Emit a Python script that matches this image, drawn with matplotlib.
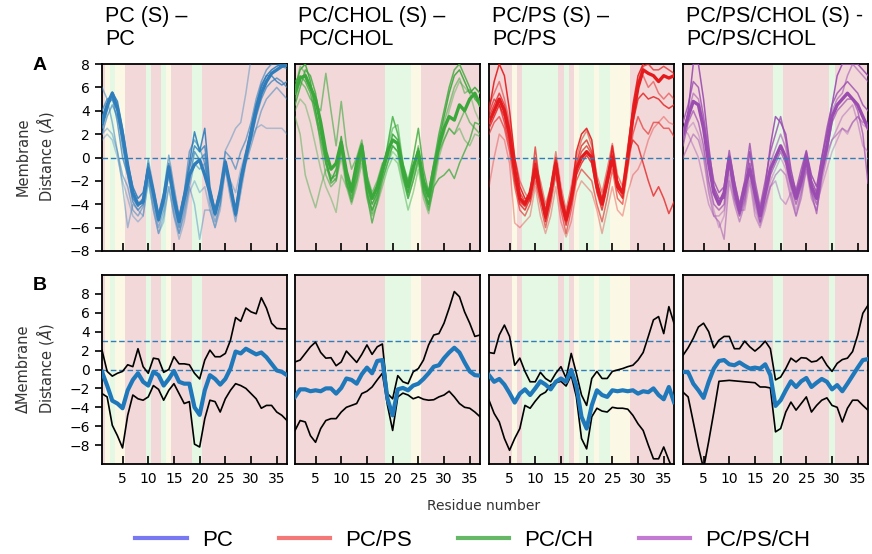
import numpy as np
import matplotlib.pyplot as plt

residues = np.arange(1, 38)

titles = ['PC (S) \u2013\nPC', 'PC/CHOL (S) \u2013\nPC/CHOL',
          'PC/PS (S) \u2013\nPC/PS', 'PC/PS/CHOL (S) -\nPC/PS/CHOL']

# per-residue secondary structure state: C coil (pink), G helix (green), Y turn (yellow)
ss_pc = 'CYGYYCCCCGCCGYCCCCGG' + 'C' * 17
ss_pcchol = 'C' * 18 + 'GGGGGYY' + 'C' * 12
ss_pcps = 'CCCCCYCGGGGGGGCGCYGGGYGGYYYY' + 'C' * 9
ss_pcpschol = 'C' * 18 + 'GG' + 'C' * 9 + 'G' + 'C' * 7

# panel A: membrane distance of individual runs
pc_runs = [
    [3.0, 4.5, 5.5, 4.2, 2.0, -0.7, -3.0, -4.0, -3.8, -1.0, -3.0, -5.3, -3.5, -0.8, -3.5, -5.5, -3.5, -1.5, -0.6, -0.2, -1.5, -3.0, -4.8, -3.0, -0.4, -2.5, -4.8, -2.0, 0.0, 2.0, 4.0, 5.5, 6.5, 7.2, 7.5, 7.8, 7.9],
    [2.5, 4.0, 5.6, 4.8, 2.5, -0.5, -2.5, -3.5, -3.0, -0.8, -2.8, -5.0, -3.2, -1.0, -3.0, -5.2, -3.0, -0.5, 2.2, 0.5, 2.5, -2.5, -4.5, -2.8, -0.6, -2.3, -4.6, -1.5, 0.5, 2.5, 4.5, 6.0, 7.0, 7.5, 7.8, 8.0, 8.0],
    [4.0, 5.0, 5.2, 3.0, 0.0, -1.5, -3.8, -4.5, -4.0, -1.2, -3.5, -5.5, -4.0, -1.2, -4.0, -6.0, -4.0, -2.0, 0.5, -0.2, 0.3, -3.5, -5.0, -3.5, -0.5, -3.0, -5.0, -2.5, 0.0, 1.5, 3.5, 5.0, 6.0, 6.5, 6.8, 6.5, 6.0],
    [6.0, 5.0, 3.0, 0.5, -1.5, -2.5, -4.5, -5.0, -4.2, -1.5, -4.0, -6.0, -4.5, -1.5, -4.5, -6.5, -4.5, -2.5, -0.5, -1.0, -0.5, -4.0, -5.5, -4.0, -1.0, -3.5, -5.5, -3.0, -0.5, 1.0, 2.5, 4.0, 5.0, 5.5, 6.0, 5.5, 5.0],
    [2.0, 2.5, 2.0, 0.5, -2.5, -6.0, -4.0, -4.5, -5.0, -2.0, -4.5, -6.5, -5.0, -2.5, -5.0, -6.5, -5.0, -2.5, -4.0, -7.0, -4.5, -4.5, -6.0, -4.0, 0.6, 1.5, 2.5, 3.0, 5.5, 8.5, 9.0, 9.0, 9.0, 9.0, 9.0, 9.0, 9.0],
    [1.5, 2.0, 1.5, 0.0, -2.0, -3.5, -5.0, -5.5, -5.0, -2.0, -4.5, -6.5, -5.5, -2.5, -5.0, -7.0, -5.5, -3.0, -2.0, -3.0, -2.5, -4.5, -6.0, -4.5, -1.0, -2.0, -3.0, -1.0, 0.5, 1.5, 2.5, 2.8, 2.5, 2.5, 2.5, 2.5, 2.0],
    [3.5, 4.5, 5.0, 4.0, 1.0, -1.5, -3.5, -4.2, -3.5, -0.5, -3.0, -5.0, -3.5, -0.5, -3.5, -5.5, -3.5, -1.0, 1.0, 0.5, 1.0, -2.8, -4.8, -3.2, -0.2, -2.5, -5.0, -2.2, 0.2, 2.5, 4.5, 6.2, 7.0, 7.0, 6.5, 6.2, 6.5],
    [2.0, 3.5, 4.5, 3.5, 1.5, -1.0, -3.2, -4.0, -3.5, -0.2, -2.5, -4.8, -3.0, 0.2, -2.5, -5.0, -3.0, 0.5, 1.5, 0.8, -0.5, -3.0, -4.5, -2.5, 0.5, 0.0, -1.0, 0.5, 1.5, 3.0, 5.0, 6.5, 7.5, 8.0, 8.0, 7.8, 7.6],
]
pc_alpha = [1.0, 0.9, 0.7, 0.5, 0.4, 0.35, 0.8, 0.6]

pcchol_runs = [
    [5.5, 6.8, 7.0, 6.0, 5.0, 3.0, 0.5, -1.0, -0.5, 1.3, -1.2, -2.8, -0.5, 1.0, -2.0, -3.5, -2.5, -1.0, 0.5, 1.5, 1.2, -1.0, -2.5, -0.8, 0.5, -2.0, -3.3, -1.0, 1.0, 2.5, 3.5, 3.2, 4.5, 4.0, 5.0, 5.5, 4.5],
    [6.0, 7.5, 8.0, 6.5, 4.0, 2.0, 0.0, -2.0, -1.0, 1.8, -1.5, -3.0, -1.0, 1.2, -2.5, -4.0, -3.0, -1.5, 0.0, 2.0, 1.5, -1.5, -3.0, -1.2, 0.8, -2.5, -4.0, -1.5, 1.5, 3.5, 5.5, 7.0, 7.5, 6.5, 5.5, 6.0, 5.5],
    [4.5, 6.0, 7.5, 7.0, 5.5, 2.5, -0.5, -1.8, -1.5, 1.0, -2.0, -3.5, -1.5, 0.5, -3.0, -4.5, -3.5, -1.5, 1.0, 3.5, 2.0, -0.5, -2.0, 0.0, 2.5, -1.0, -3.0, -0.5, 2.0, 4.0, 6.0, 7.5, 8.0, 7.0, 6.0, 5.0, 4.5],
    [5.0, 6.5, 6.0, 5.0, 4.5, 4.0, 7.2, 4.0, 1.0, 4.8, 1.0, -1.0, 0.0, 1.5, -1.5, -3.0, -2.0, -0.5, 0.0, 1.0, 0.5, -1.8, -3.2, -1.5, 0.0, -2.8, -4.2, -2.0, 0.5, 1.5, 2.5, 2.0, 3.0, 4.0, 3.0, 2.5, 2.0],
    [3.5, 2.0, -1.5, -3.0, -4.3, -2.5, -1.0, -1.5, -2.0, 0.0, -2.5, -4.0, -2.5, -0.5, -3.5, -5.0, -4.0, -2.5, -1.0, 0.0, -0.5, -2.5, -4.5, -3.0, -1.0, -3.5, -4.8, -2.5, 0.0, 1.5, 2.5, 2.0, 2.5, 1.5, 1.0, 2.0, 1.8],
    [4.0, 5.0, 4.5, 3.0, 1.0, -1.0, -2.5, -3.5, -4.7, -1.5, -2.5, -3.0, -2.0, 0.0, -3.0, -4.5, -3.0, -1.8, -0.5, 0.5, 0.0, -2.0, -3.5, -2.0, -0.5, -3.0, -4.0, -1.8, 0.5, 2.0, 4.0, 5.5, 6.5, 6.0, 5.5, 4.0, 3.0],
    [6.5, 7.0, 6.5, 5.5, 3.5, 1.5, -0.5, -2.2, -1.8, 0.8, -2.2, -3.8, -2.0, 0.2, -3.2, -5.6, -3.8, -2.0, -0.5, 1.0, 0.5, -1.5, -3.5, -2.0, -0.2, -3.0, -4.5, -2.5, -1.8, -1.5, -1.0, -1.8, -0.5, 0.5, 1.5, 3.0, 2.8],
    [5.8, 7.8, 7.2, 6.0, 4.0, 1.0, -1.5, -2.5, -2.0, 0.5, -2.0, -3.2, -1.2, 0.8, -2.8, -4.8, -3.2, -1.0, 0.8, 2.5, 2.8, -0.5, -2.8, -1.0, 1.0, -2.0, -3.5, -1.0, 1.0, 3.0, 4.5, 6.0, 6.8, 5.5, 5.8, 5.2, 5.0],
]
pcchol_alpha = [1.0, 0.9, 0.8, 0.6, 0.45, 0.4, 0.75, 0.55]

pcps_runs = [
    [3.0, 4.0, 5.0, 4.0, 2.0, -1.0, -3.5, -4.0, -3.0, -1.0, -3.0, -5.0, -3.0, -0.5, -3.5, -5.3, -3.5, -1.0, 0.0, 0.5, 0.0, -2.5, -4.0, -2.0, 0.0, -2.5, -3.0, 0.0, 3.5, 6.0, 7.5, 7.2, 7.0, 6.5, 7.0, 6.8, 7.0],
    [4.0, 6.5, 8.0, 7.0, 4.0, 0.0, -2.5, -3.5, -3.5, -0.5, -3.0, -5.5, -3.5, -0.5, -3.5, -5.5, -3.5, 0.5, 2.0, 2.5, 1.5, -2.0, -4.0, -2.0, 1.0, -2.0, -3.0, 0.5, 4.5, 7.0, 8.0, 8.5, 8.5, 8.5, 8.5, 8.5, 8.5],
    [2.5, 3.5, 4.5, 3.5, 1.5, -2.0, -4.0, -4.5, -3.5, -1.5, -3.5, -5.2, -3.2, -1.0, -4.0, -5.8, -4.0, -1.5, -0.5, 0.2, -0.5, -3.0, -4.5, -2.5, -0.3, -2.8, -3.5, -0.5, 3.0, 5.0, 5.5, 5.0, 5.2, 5.0, 4.5, 4.2, 4.5],
    [2.0, 3.0, 3.5, 2.5, 0.5, -2.5, -4.5, -5.0, -4.0, -2.0, -4.0, -6.0, -4.0, -1.5, -4.5, -6.5, -4.5, -2.0, -1.0, -1.5, -2.0, -4.0, -5.5, -3.5, -1.0, -3.5, -4.0, -1.0, 2.0, 3.5, 2.5, 2.0, 3.0, 3.0, 2.5, 2.5, 1.8],
    [3.5, 4.5, 5.5, 4.5, 2.5, -1.0, -3.0, -3.8, -3.0, 0.0, -2.5, -4.5, -2.5, 0.0, -3.0, -5.0, -3.0, -0.5, 1.0, 1.5, 0.5, -2.0, -3.5, -1.5, 0.5, -2.0, -3.0, 0.0, 1.5, 1.0, -0.5, -2.0, -3.3, -2.5, -3.5, -4.8, -3.8],
    [-2.5, 0.0, 2.0, 1.5, -0.5, -5.6, -6.0, -5.5, -5.0, -2.5, -5.0, -6.5, -5.0, -2.5, -5.5, -6.8, -5.5, -3.0, -2.0, -2.5, -3.0, -4.5, -6.5, -4.5, -2.5, -4.5, -5.0, -3.0, -1.5, -1.0, 0.0, 1.5, 2.5, 3.0, 3.5, 3.0, 2.8],
    [4.5, 5.5, 6.5, 5.0, 3.0, 0.0, -2.0, -3.0, -3.8, -0.5, -2.0, -4.0, -2.5, 0.5, -2.5, -4.5, -2.5, 0.0, 1.5, 2.3, 1.0, -1.5, -3.0, -1.0, 1.2, -1.5, -2.5, 1.0, 4.0, 6.5, 7.0, 6.0, 6.5, 5.5, 5.0, 5.5, 5.0],
    [3.8, 5.0, 4.5, 3.0, 1.0, -1.5, -3.8, -4.2, -3.2, 0.9, -2.8, -4.8, -2.8, -0.2, -3.2, -5.0, -3.2, -0.8, 0.5, 1.0, 0.3, -2.2, -3.8, -1.8, 0.2, -2.2, -3.4, -0.2, 3.8, 6.5, 7.8, 8.0, 7.5, 7.5, 7.8, 7.5, 7.2],
]
pcps_alpha = [1.0, 0.9, 0.8, 0.6, 0.75, 0.35, 0.5, 0.7]

pcpschol_runs = [
    [2.0, 3.5, 4.8, 4.5, 2.5, -0.5, -3.0, -4.0, -3.0, 0.0, -2.5, -4.5, -2.5, -1.0, -3.0, -5.0, -3.0, -1.0, 0.0, 1.0, 0.0, -2.0, -3.5, -2.0, 0.0, -2.5, -3.5, -1.0, 1.0, 3.5, 4.5, 5.0, 5.5, 5.0, 4.5, 3.5, 2.5],
    [1.5, 4.0, 8.0, 8.0, 5.0, 1.0, -2.5, -3.5, -3.5, -0.5, -3.0, -4.8, -3.0, 0.5, -2.5, -4.5, -2.5, 1.0, 3.5, 3.0, 2.0, -1.0, -3.0, -1.5, 0.5, -1.5, -2.5, 0.0, 2.0, 4.5, 7.0, 8.0, 8.0, 8.0, 8.0, 7.5, 7.0],
    [1.0, 3.0, 4.0, 3.0, 1.0, -2.0, -4.0, -4.5, -4.0, -0.5, -3.5, -5.0, -3.5, -0.5, -3.5, -5.5, -3.5, -1.5, -0.5, 0.5, -0.5, -2.5, -4.0, -2.5, -0.5, -3.0, -4.8, -1.5, 0.5, 3.0, 4.0, 4.5, 5.0, 5.0, 4.0, 2.0, -2.2],
    [0.0, 1.0, 2.0, 1.5, 0.0, -3.0, -5.0, -5.5, -7.0, -2.0, -4.0, -5.5, -4.0, -1.0, -4.0, -5.6, -4.0, -2.5, -1.5, -1.0, -1.5, -3.5, -5.0, -3.5, -1.0, -3.5, -4.5, -2.0, 0.0, 1.5, 2.0, 2.5, 2.2, 3.0, 3.5, 3.0, 3.0],
    [2.5, 2.0, 1.0, 0.0, -2.0, -4.0, -5.0, -5.0, -4.5, -1.0, -3.0, -4.5, -4.5, -2.0, -5.0, -6.0, -4.5, -2.5, -2.0, -3.5, -4.0, -3.0, -5.0, -3.0, -0.5, -2.0, -3.0, -1.0, 0.5, 1.5, 2.5, 3.5, 4.0, 4.5, 3.0, 1.0, 0.5],
    [3.0, 4.5, 6.5, 6.0, 3.5, 0.5, -2.0, -3.0, -2.5, 0.6, -2.0, -4.0, -2.0, 1.2, -2.0, -4.2, -2.0, 0.5, 2.0, 3.5, 1.5, -1.5, -2.8, -1.0, 0.6, -2.0, -3.0, 0.0, 2.5, 4.5, 5.5, 6.0, 6.5, 6.0, 5.5, 4.5, 4.0],
    [2.2, 3.8, 5.5, 5.0, 3.0, -0.2, -2.8, -3.8, -3.2, 0.2, -2.8, -4.2, -3.0, -0.5, -3.2, -4.8, -3.2, -0.5, 0.8, 2.0, 0.8, -1.8, -3.2, -1.8, 0.2, -2.8, -4.0, -0.5, 2.0, 4.0, 5.0, 5.5, 7.0, 8.0, 7.5, 7.0, 6.5],
    [1.8, 2.5, 3.0, 2.0, 0.5, -2.5, -4.5, -6.0, -5.0, -1.5, -3.5, -5.0, -3.8, -1.5, -4.5, -5.8, -4.0, -2.0, -1.0, 0.0, -1.0, -3.0, -4.5, -3.0, -1.0, -3.0, -4.0, -2.5, -1.0, 0.5, 1.5, 2.5, 2.0, 3.0, 3.5, 2.8, 2.5],
]
pcpschol_alpha = [1.0, 0.9, 0.7, 0.5, 0.4, 0.8, 0.55, 0.35]

# panel B: difference to reference, mean with upper / lower bound
pc_mean = [-0.25, -1.7, -3.3, -3.6, -4.1, -2.2, -1.1, -0.4, -1.3, -1.7, -0.25, -0.6, -1.7, -1.0, -0.15, -1.3, -1.5, -1.5, -4.0, -4.8, -2.2, -0.6, -1.0, -1.6, -1.0, 0.1, 1.9, 1.7, 2.2, 1.9, 1.6, 1.8, 1.3, 0.6, -0.1, -0.25, -0.6]
pc_upper = [2.05, -0.2, -0.7, -0.4, -0.2, 0.5, 0.3, 2.2, 0.3, -0.4, 1.2, 1.1, -0.3, 0.0, 1.35, 0.6, 0.6, 0.5, -0.4, -1.0, 1.0, 2.05, 1.35, 1.35, 1.7, 3.1, 5.5, 5.1, 6.5, 6.1, 5.9, 7.6, 6.5, 4.9, 4.35, 4.3, 4.3]
pc_lower = [-2.55, -2.9, -5.9, -7.0, -8.3, -4.85, -2.7, -3.1, -3.25, -2.9, -1.7, -2.1, -3.25, -2.2, -1.5, -2.55, -3.6, -3.4, -7.9, -8.2, -5.2, -3.25, -3.4, -4.5, -3.1, -2.2, -1.5, -1.7, -2.0, -2.55, -3.1, -4.1, -3.8, -3.8, -4.5, -4.85, -5.4]

pcchol_mean = [-2.9, -2.1, -2.1, -2.3, -2.2, -2.3, -2.0, -2.0, -2.55, -1.95, -0.95, -1.1, -1.5, -0.5, 0.2, -0.4, 0.9, 1.0, -3.1, -4.85, -2.1, -1.95, -2.2, -1.7, -1.5, -1.0, -0.4, 0.3, 0.45, 1.2, 1.8, 2.3, 1.8, 0.75, -0.2, -0.6, -0.65]
pcchol_upper = [0.8, 1.0, 1.7, 2.4, 2.9, 1.8, 1.2, 1.25, 0.4, 0.8, 1.95, 1.35, 0.75, 1.6, 2.6, 1.6, 2.4, 2.7, -2.55, -3.1, -0.65, -1.3, -1.5, -0.25, 0.1, 1.0, 2.6, 3.65, 3.8, 4.9, 6.5, 8.25, 7.7, 6.1, 4.9, 3.5, 3.65]
pcchol_lower = [-6.45, -5.4, -5.55, -7.0, -7.7, -6.25, -5.4, -5.2, -5.2, -4.5, -4.0, -3.8, -3.6, -2.55, -2.3, -1.85, -1.1, -0.4, -3.8, -6.45, -2.9, -2.5, -2.7, -3.1, -2.9, -3.15, -3.25, -3.2, -2.9, -2.7, -2.3, -2.9, -3.6, -4.0, -4.1, -4.5, -5.0]

pcps_mean = [-0.6, -1.3, -1.0, -1.6, -2.5, -3.5, -2.55, -2.1, -2.7, -2.0, -1.25, -1.6, -2.1, -1.3, -0.95, -1.3, -0.05, -1.7, -5.0, -6.25, -3.8, -2.2, -2.7, -2.9, -2.2, -2.3, -2.2, -2.3, -2.2, -2.55, -2.3, -2.4, -2.0, -2.7, -3.15, -1.85, -3.45]
pcps_upper = [1.8, 1.7, 3.65, 4.7, 3.5, 0.45, 1.2, -0.2, -1.3, -1.3, -0.3, -0.95, -1.3, -0.4, 0.3, -0.9, 1.7, -0.4, -2.7, -3.8, -0.95, -0.2, -0.95, -0.95, -0.2, -0.05, 0.1, 0.3, 0.45, 1.0, 1.8, 3.5, 5.25, 5.6, 3.8, 6.65, 4.9]
pcps_lower = [-3.25, -4.65, -5.55, -7.3, -8.55, -7.3, -6.25, -3.8, -4.1, -3.35, -2.7, -2.4, -1.65, -1.4, -1.25, -1.75, -0.6, -2.9, -7.3, -8.4, -5.0, -4.1, -4.4, -4.5, -4.0, -4.1, -4.1, -4.2, -4.85, -5.75, -6.45, -8.0, -9.45, -9.45, -8.2, -9.6, -10.9]

pcpschol_mean = [-0.25, -0.3, -1.5, -2.2, -3.0, -1.3, 0.1, 0.9, 1.0, 0.55, 0.45, 0.75, 0.4, 0.1, 0.2, 0.1, 0.55, -0.6, -3.85, -3.25, -2.2, -1.25, -1.85, -1.25, -0.9, -1.85, -1.4, -1.0, -1.3, -2.1, -1.65, -2.3, -1.5, -0.65, 0.2, 1.0, 1.1]
pcpschol_upper = [1.5, 2.3, 3.3, 4.5, 4.9, 4.0, 2.3, 3.1, 3.5, 3.5, 2.2, 2.2, 3.0, 2.4, 1.95, 2.4, 3.0, 2.2, -1.1, -0.8, 0.1, 1.2, 0.8, 1.25, 1.2, 0.8, 0.9, 1.35, 0.45, -0.2, 0.65, 1.05, 1.2, 1.9, 3.65, 5.95, 6.8]
pcpschol_lower = [-2.4, -2.9, -5.55, -8.2, -10.5, -7.6, -4.5, -1.25, -1.2, -1.15, -1.2, -1.25, -1.3, -1.35, -1.4, -1.85, -1.85, -1.95, -6.6, -6.25, -4.5, -3.45, -4.3, -3.6, -2.9, -4.5, -3.8, -3.25, -3.0, -3.8, -4.0, -5.55, -4.1, -3.25, -3.25, -3.8, -4.3]

ss_list = [ss_pc, ss_pcchol, ss_pcps, ss_pcpschol]
runs_list = [pc_runs, pcchol_runs, pcps_runs, pcpschol_runs]
alpha_list = [pc_alpha, pcchol_alpha, pcps_alpha, pcpschol_alpha]
mean_list = [pc_mean, pcchol_mean, pcps_mean, pcpschol_mean]
upper_list = [pc_upper, pcchol_upper, pcps_upper, pcpschol_upper]
lower_list = [pc_lower, pcchol_lower, pcps_lower, pcpschol_lower]

line_colors = ['#2f7dbb', '#3aa83a', '#e41a1c', '#9a4cb0']
ss_colors = {'C': '#f2d8d8', 'G': '#e4f8e4', 'Y': '#fbf9e6'}
legend_labels = ['PC', 'PC/PS', 'PC/CH', 'PC/PS/CH']
legend_colors = ['#7878f2', '#f57878', '#66b866', '#c27ad2']

W, H = 872, 554
fig = plt.figure(figsize=(W / 100, H / 100), dpi=100)
lefts = [102, 295, 489, 683]
ax_w = 185


def shade(ax, ss):
    for i, s in enumerate(ss):
        ax.axvspan(residues[i] - 0.5, residues[i] + 0.5, color=ss_colors[s], lw=0, zorder=0)


def style(ax, first, ylim, show_xlabels):
    ax.set_xlim(1, 37)
    ax.set_ylim(*ylim)
    ax.set_xticks([5, 10, 15, 20, 25, 30, 35])
    ax.set_yticks(range(-8, 9, 2))
    ax.tick_params(axis='x', direction='in', length=6, width=1.2,
                   labelbottom=show_xlabels, labelsize=10, pad=6)
    ax.tick_params(axis='y', direction='out', length=5, width=1.2, labelsize=10,
                   left=first, labelleft=first)
    for sp in ax.spines.values():
        sp.set_linewidth(1.3)


for k in range(4):
    x0 = lefts[k] / W
    # row A
    ax = fig.add_axes([x0, 1 - 251 / H, ax_w / W, 187 / H])
    shade(ax, ss_list[k])
    for j, run in enumerate(runs_list[k]):
        lw = 2.4 if j == 0 else 1.1
        ax.plot(residues, run, color=line_colors[k], alpha=alpha_list[k][j], lw=lw, zorder=3)
    ax.axhline(0, color='#2f7dbb', lw=1, ls=(0, (4, 2)), zorder=4)
    style(ax, k == 0, (-8, 8), False)
    fig.text(x0 + 3 / W, 1 - 6 / H, titles[k], fontsize=15.5, family='Liberation Sans',
             va='top', ha='left', linespacing=1.15)

    # row B
    ax = fig.add_axes([x0, 1 - 464 / H, ax_w / W, 189 / H])
    shade(ax, ss_list[k])
    ax.axhline(0, color='#2f7dbb', lw=1, ls=(0, (4, 2)), zorder=2)
    ax.axhline(3, color='#2f7dbb', lw=1, ls=(0, (4, 2)), zorder=2)
    ax.plot(residues, upper_list[k], color='black', lw=1.2, zorder=3)
    ax.plot(residues, lower_list[k], color='black', lw=1.2, zorder=3)
    ax.plot(residues, mean_list[k], color='#1f78b9', lw=3, zorder=4)
    style(ax, k == 0, (-10, 10), True)

fig.text(36 / W, 1 - 157 / H, 'Membrane\nDistance ($\\AA$)', rotation=90, ha='center',
         va='center', fontsize=10.5, color='#333333')
fig.text(36 / W, 1 - 369 / H, '\u0394Membrane\nDistance ($\\AA$)', rotation=90, ha='center',
         va='center', fontsize=10.5, color='#333333')
fig.text(40 / W, 1 - 65 / H, 'A', fontsize=14, fontweight='bold', family='Liberation Sans',
         ha='center', va='center')
fig.text(40 / W, 1 - 285 / H, 'B', fontsize=14, fontweight='bold', family='Liberation Sans',
         ha='center', va='center')
fig.text(484 / W, 1 - 506 / H, 'Residue number', ha='center', va='center', fontsize=10,
         color='#333333')

handles = [plt.Line2D([], [], color=c, lw=3) for c in legend_colors]
fig.legend(handles, legend_labels, loc='center', bbox_to_anchor=(473 / W, 1 - 540 / H),
           ncol=4, frameon=False, prop={'family': 'Liberation Sans', 'size': 16},
           handlelength=2.3, handletextpad=0.7, columnspacing=2.05)

fig.savefig('out.png', dpi=100)
